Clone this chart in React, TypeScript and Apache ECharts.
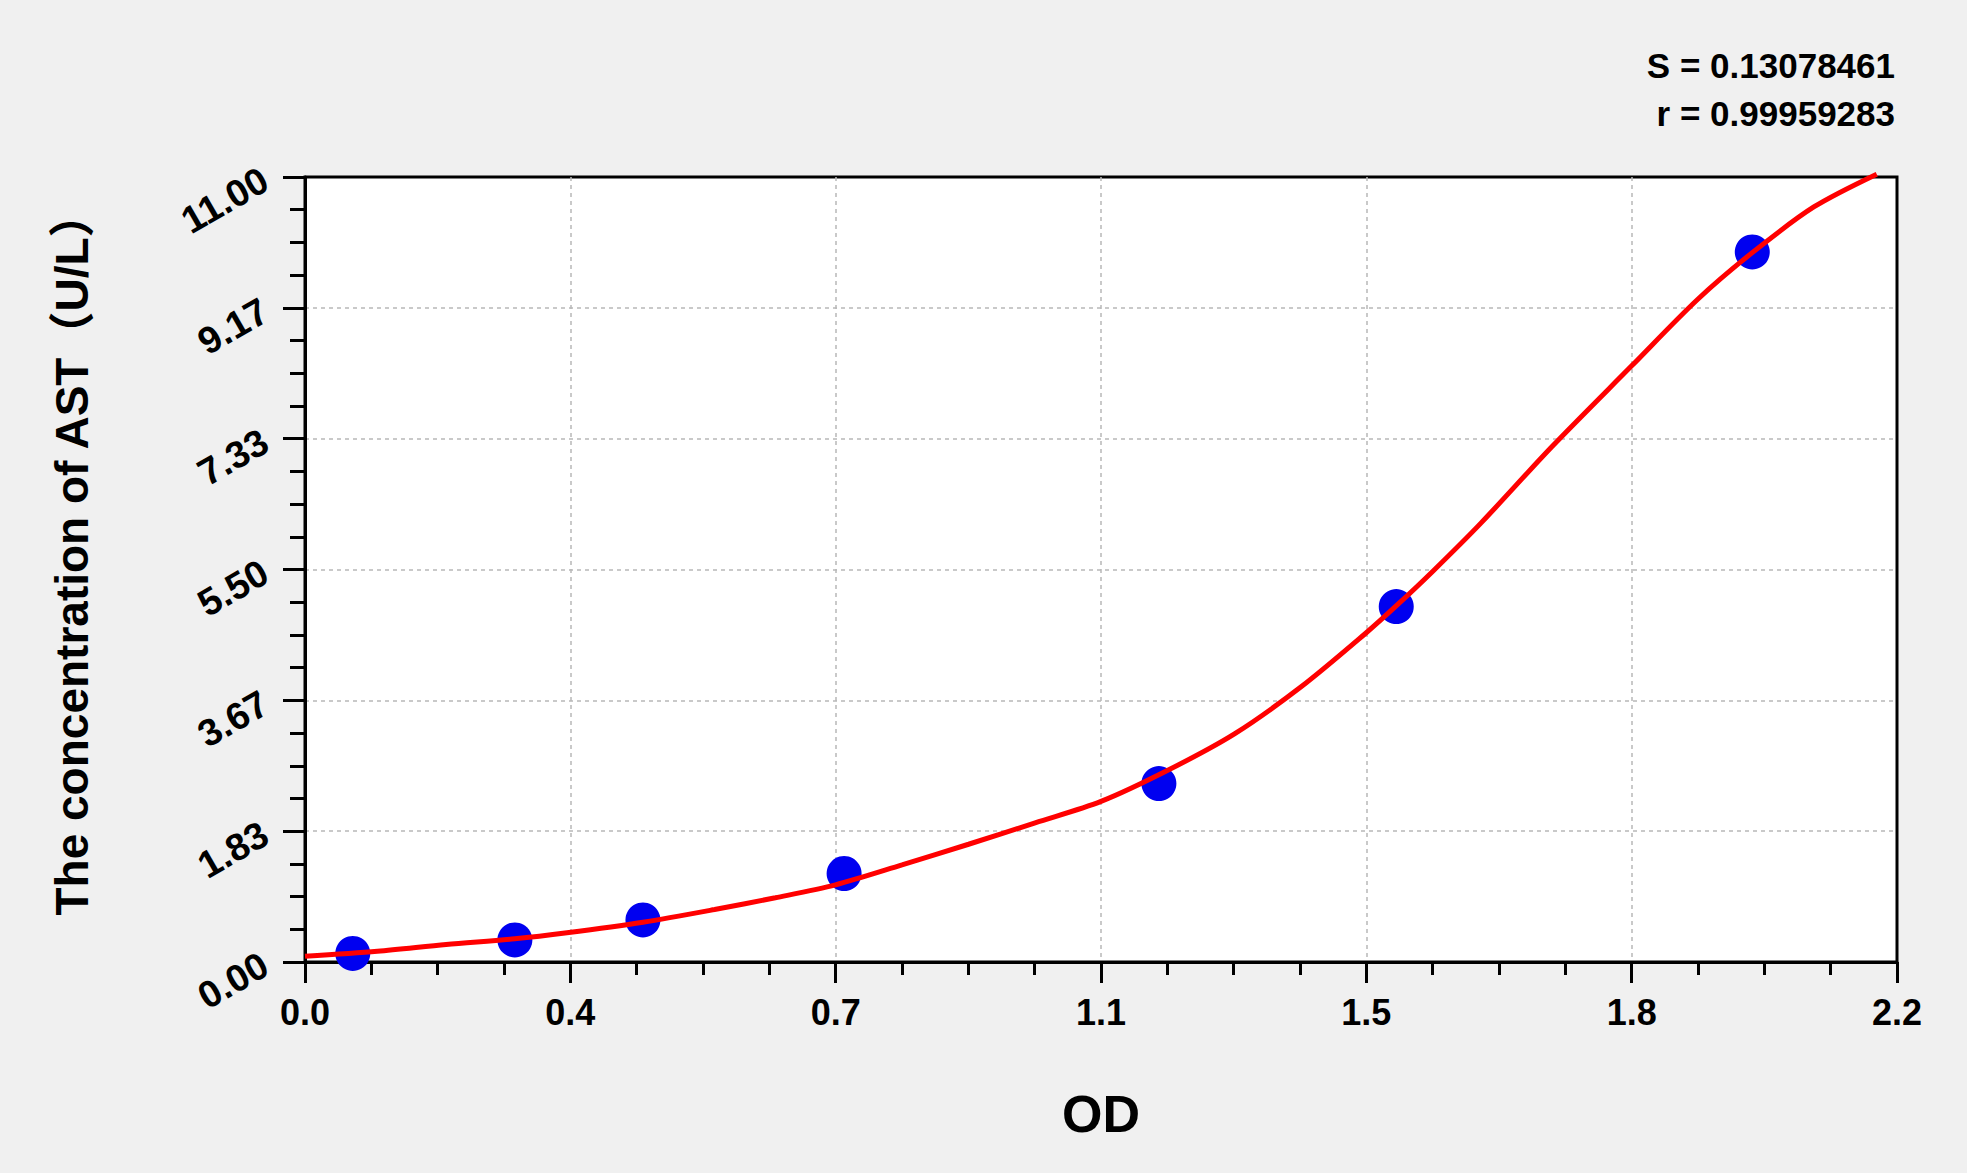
import { useEffect, useRef } from "react";
import * as echarts from "echarts";

// standard points (OD vs concentration)
const odValues = [0.066, 0.29, 0.467, 0.745, 1.18, 1.508, 2.0];
const concValues = [0.12, 0.31, 0.59, 1.24, 2.5, 4.98, 9.95];

// fitted curve
const fitOd = [
  0.0, 0.1, 0.195, 0.29, 0.362, 0.467, 0.566, 0.65, 0.733, 0.825, 0.917, 1.009,
  1.1, 1.193, 1.285, 1.377, 1.465, 1.509, 1.559, 1.625, 1.723, 1.833, 1.924,
  2.0, 2.085, 2.172,
];
const fitConc = [
  0.08, 0.15, 0.245, 0.325, 0.409, 0.557, 0.735, 0.9, 1.08, 1.36, 1.65, 1.95,
  2.25, 2.69, 3.2, 3.86, 4.6, 5.0, 5.48, 6.15, 7.22, 8.35, 9.28, 9.94, 10.58,
  11.04,
];

const xTickLabels = ["0.0", "0.4", "0.7", "1.1", "1.5", "1.8", "2.2"];
const yTickLabels = ["0.00", "1.83", "3.67", "5.50", "7.33", "9.17", "11.00"];
const fitStats = ["S = 0.13078461", "r = 0.99959283"];

const xName = "OD";
const yName = "The concentration of AST（U/L）";

const FONT = "'Liberation Sans', Arial, 'Noto Sans CJK SC', sans-serif";

function buildOption(): echarts.EChartsCoreOption {
  const axisLine = { show: true, onZero: false, lineStyle: { color: "#000", width: 3 } };
  const splitLine = {
    show: true,
    showMinLine: false,
    showMaxLine: false,
    lineStyle: { color: "#b8b8b8", type: [4, 4], width: 1.5 },
  };
  return {
    animation: false,
    backgroundColor: "#f0f0f0",
    grid: {
      left: 305,
      right: 70,
      top: 177,
      bottom: 211,
      show: true,
      backgroundColor: "#ffffff",
      borderColor: "#000",
      borderWidth: 3,
    },
    xAxis: {
      type: "value",
      min: 0,
      max: 2.2,
      interval: 2.2 / 6,
      axisLine,
      axisTick: { show: true, length: 21, lineStyle: { color: "#000", width: 3 } },
      minorTick: { show: true, splitNumber: 4, length: 13, lineStyle: { color: "#000", width: 3 } },
      splitLine,
      axisLabel: {
        margin: 32,
        color: "#000",
        fontWeight: "bold",
        fontSize: 36,
        fontFamily: FONT,
        formatter: (v: number, i: number) => xTickLabels[i] ?? v.toFixed(1),
      },
      name: xName,
      nameLocation: "middle",
      nameGap: 126,
      nameTextStyle: { color: "#000", fontWeight: "bold", fontSize: 52, fontFamily: FONT },
    },
    yAxis: {
      type: "value",
      min: 0,
      max: 11,
      interval: 11 / 6,
      axisLine,
      axisTick: { show: true, length: 22, lineStyle: { color: "#000", width: 3 } },
      minorTick: { show: true, splitNumber: 4, length: 15, lineStyle: { color: "#000", width: 3 } },
      splitLine,
      axisLabel: {
        margin: 40,
        rotate: 30,
        color: "#000",
        fontWeight: "bold",
        fontSize: 38,
        fontFamily: FONT,
        formatter: (v: number, i: number) => yTickLabels[i] ?? v.toFixed(2),
      },
      name: yName,
      nameLocation: "middle",
      nameRotate: 90,
      nameGap: 210,
      nameTextStyle: {
        color: "#000",
        fontWeight: "bold",
        fontSize: 46,
        fontFamily: FONT,
        padding: [0, 0, 0, 32],
      },
    },
    graphic: fitStats.map((t, i) => ({
      type: "text",
      x: 1895,
      y: 65 + i * 48,
      style: {
        text: t,
        align: "right",
        verticalAlign: "middle",
        fill: "#000",
        font: `bold 35px ${FONT}`,
      },
    })),
    series: [
      {
        type: "scatter",
        data: odValues.map((x, i) => [x, concValues[i]]),
        symbolSize: 35,
        itemStyle: { color: "#0000f0", opacity: 1 },
        z: 2,
      },
      {
        type: "line",
        data: fitOd.map((x, i) => [x, fitConc[i]]),
        showSymbol: false,
        smooth: 0.3,
        clip: false,
        lineStyle: { color: "#ff0000", width: 5 },
        z: 3,
      },
    ],
  };
}

export default function App() {
  const chartRef = useRef<HTMLDivElement | null>(null);

  useEffect(() => {
    if (!chartRef.current) return;
    const instance = echarts.init(chartRef.current, undefined, { renderer: "svg" });
    instance.setOption(buildOption());
    return () => {
      instance.dispose();
    };
  }, []);

  return (
    <div
      ref={chartRef}
      style={{ position: "absolute", left: 0, top: 0, width: 1967, height: 1173 }}
    />
  );
}
